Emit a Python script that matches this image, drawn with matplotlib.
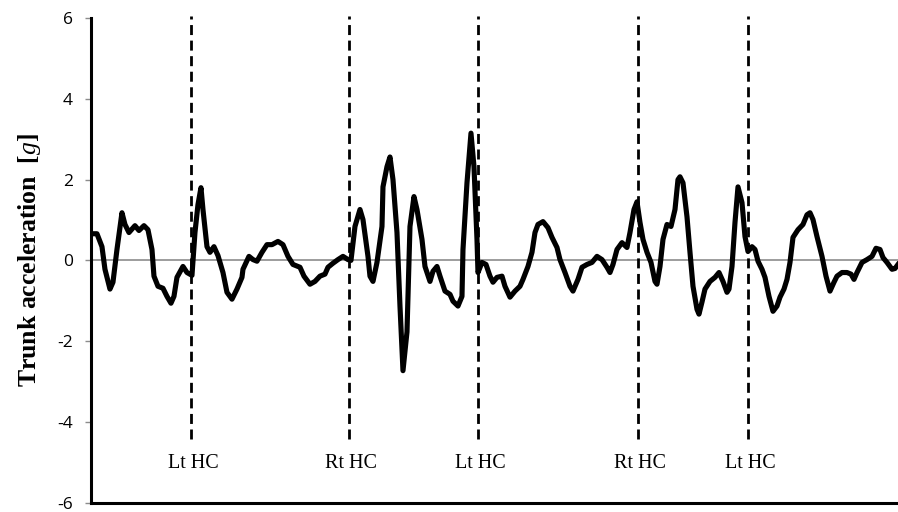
import numpy as np
import matplotlib
matplotlib.use("Agg")
import matplotlib.pyplot as plt

plt.rcParams['axes.unicode_minus'] = False
plt.rcParams['mathtext.fontset'] = 'custom'
plt.rcParams['mathtext.it'] = 'Liberation Serif:italic'
plt.rcParams['mathtext.rm'] = 'Liberation Serif:bold'

# sample index and trunk acceleration [g]
samples = [2, 6, 11, 14, 19, 22, 26, 31, 34, 38, 44, 48, 53, 57, 61, 63, 67, 72, 76, 80,
           83, 86, 92, 96, 101, 104, 107, 110, 112, 116, 119, 123, 127, 132, 136, 141, 146, 151, 152, 158,
           162, 166, 171, 176, 181, 187, 192, 197, 202, 209, 213, 219, 224, 229, 234, 237, 242, 247, 252, 257,
           260, 264, 269, 272, 277, 279, 282, 286, 291, 292, 296, 299, 302, 306, 309, 312, 316, 319, 323, 326,
           331, 334, 339, 342, 346, 349, 354, 359, 362, 367, 371, 372, 376, 380, 383, 386, 387, 391, 395, 399,
           402, 406, 411, 414, 419, 424, 429, 432, 437, 441, 444, 447, 452, 457, 461, 466, 469, 474, 479, 482,
           487, 491, 496, 501, 506, 511, 516, 519, 522, 526, 531, 536, 539, 543, 546, 549, 552, 556, 560, 564,
           566, 569, 572, 576, 580, 584, 587, 589, 592, 596, 599, 602, 606, 608, 611, 614, 619, 624, 628, 632,
           636, 638, 641, 644, 647, 651, 654, 657, 661, 664, 667, 671, 674, 678, 682, 686, 689, 693, 696, 699,
           702, 707, 712, 716, 719, 722, 726, 731, 735, 739, 743, 746, 751, 756, 760, 763, 766, 771, 776, 781,
           785, 789, 792, 796, 801, 804, 807]
accel = [0.66, 0.66, 0.34, -0.22, -0.71, -0.54, 0.27, 1.18, 0.89, 0.69, 0.86, 0.74, 0.86, 0.76, 0.27, -0.39, -0.64, -0.69, -0.89, -1.06,
         -0.89, -0.42, -0.15, -0.30, -0.37, 0.69, 1.38, 1.80, 1.26, 0.34, 0.20, 0.34, 0.12, -0.30, -0.79, -0.96, -0.71, -0.42, -0.22, 0.10,
         0.02, -0.02, 0.20, 0.39, 0.39, 0.47, 0.39, 0.10, -0.10, -0.17, -0.39, -0.59, -0.52, -0.39, -0.34, -0.17, -0.07, 0.02, 0.10, 0.02,
         0.00, 0.84, 1.26, 1.01, 0.10, -0.39, -0.52, -0.05, 0.84, 1.82, 2.32, 2.56, 2.00, 0.69, -1.13, -2.73, -1.77, 0.84, 1.58, 1.26,
         0.52, -0.15, -0.52, -0.27, -0.15, -0.39, -0.76, -0.84, -1.01, -1.13, -0.89, 0.27, 1.92, 3.15, 2.32, 0.52, -0.30, -0.05, -0.10, -0.39,
         -0.54, -0.42, -0.39, -0.64, -0.91, -0.76, -0.64, -0.47, -0.15, 0.20, 0.69, 0.89, 0.96, 0.81, 0.57, 0.32, 0.02, -0.30, -0.64, -0.76,
         -0.47, -0.17, -0.10, -0.05, 0.10, 0.02, -0.17, -0.30, -0.10, 0.27, 0.44, 0.32, 0.69, 1.26, 1.45, 0.94, 0.52, 0.20, -0.05, -0.52,
         -0.59, -0.15, 0.52, 0.89, 0.84, 1.26, 2.00, 2.07, 1.92, 1.08, 0.20, -0.64, -1.21, -1.33, -1.03, -0.71, -0.52, -0.42, -0.30, -0.52,
         -0.79, -0.71, -0.15, 0.94, 1.82, 1.43, 0.59, 0.22, 0.34, 0.27, -0.02, -0.22, -0.42, -0.89, -1.26, -1.13, -0.91, -0.71, -0.47, -0.05,
         0.57, 0.76, 0.89, 1.13, 1.18, 1.01, 0.59, 0.10, -0.39, -0.76, -0.54, -0.39, -0.30, -0.30, -0.34, -0.47, -0.30, -0.05, 0.02, 0.10,
         0.30, 0.27, 0.07, -0.05, -0.22, -0.20, -0.10]

# heel contact events
hc_pos = [100, 258, 387, 547, 657]
hc_labels = ['Lt HC', 'Rt HC', 'Lt HC', 'Rt HC', 'Lt HC']

yticks = [-6, -4, -2, 0, 2, 4, 6]

fig = plt.figure(figsize=(8.98, 5.12), dpi=100)
ax = fig.add_axes([0.1013, 0.018, 0.8987, 0.9468])

ax.axhline(0, color='#8c8c8c', lw=1.2, zorder=1)
ax.plot(samples, accel, color='black', lw=3.7, solid_joinstyle='round', zorder=3)

for x, lab in zip(hc_pos, hc_labels):
    ax.plot([x, x], [-4.41, 6.05], color='black', lw=2.0, dashes=(3.6, 2.0),
            clip_on=False, zorder=2)
    ax.text(x + 2, -5.02, lab, ha='center', va='center', fontsize=14.5,
            family='Liberation Serif')

ax.set_xlim(0, 807)
ax.set_ylim(-6, 6)
ax.set_yticks(yticks)
ax.set_yticklabels([str(v) for v in yticks], family='Open Sans', fontsize=12.5)
ax.set_xticks([])
ax.tick_params(axis='y', length=4, width=1, color='#8c8c8c', pad=9)

for s in ['top', 'right']:
    ax.spines[s].set_visible(False)
ax.spines['left'].set_linewidth(2.2)
ax.spines['bottom'].set_linewidth(2.2)

ax.set_ylabel('Trunk acceleration  [$\\mathit{g}$]', family='Liberation Serif',
              fontweight='bold', fontsize=18.5, labelpad=10)

fig.savefig('out.png', dpi=100)
